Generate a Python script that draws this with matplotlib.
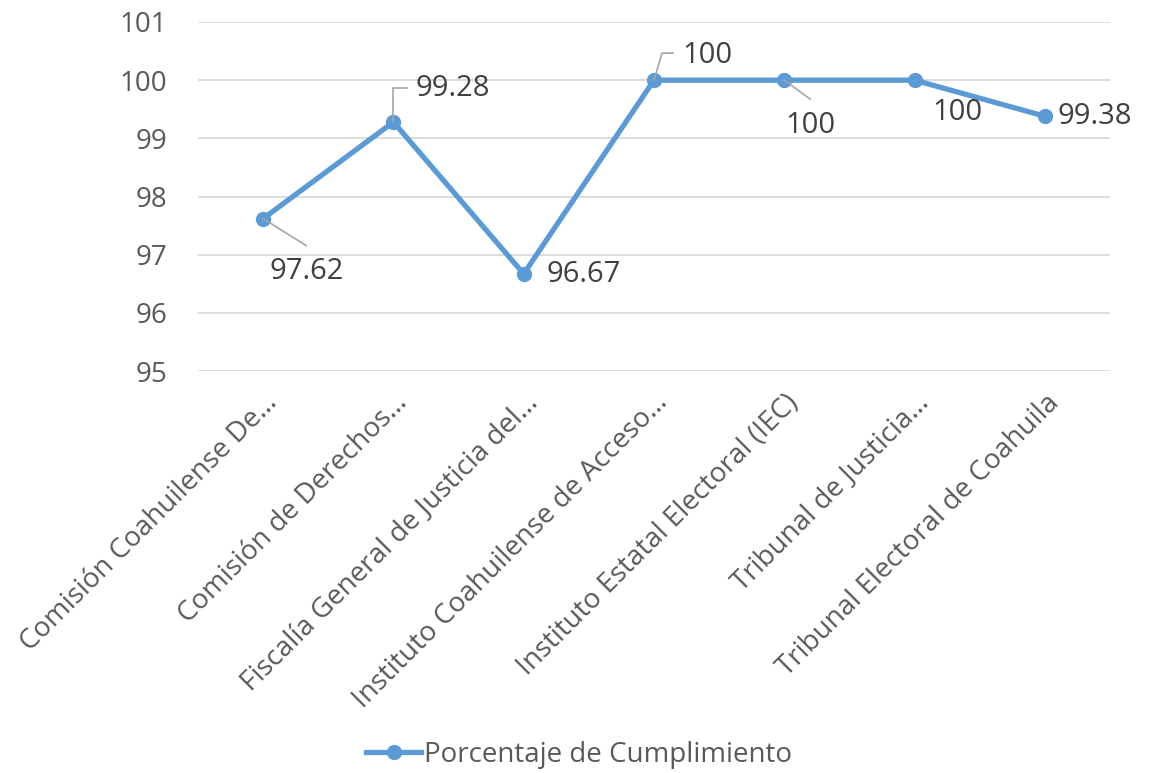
import matplotlib
matplotlib.use("Agg")
import matplotlib.pyplot as plt
from matplotlib.lines import Line2D
from matplotlib.transforms import IdentityTransform

plt.rcParams['font.family'] = ['Open Sans', 'DejaVu Sans']

# --- datos ---
categorias = [
    "Comisión Coahuilense De…",
    "Comisión de Derechos…",
    "Fiscalía General de Justicia del…",
    "Instituto Coahuilense de Acceso…",
    "Instituto Estatal Electoral (IEC)",
    "Tribunal de Justicia…",
    "Tribunal Electoral de Coahuila",
]
porcentajes = [97.62, 99.28, 96.67, 100, 100, 100, 99.38]
etiquetas = ["97.62", "99.28", "96.67", "100", "100", "100", "99.38"]
serie = "Porcentaje de Cumplimiento"

# posicion de etiquetas (offset en pixeles respecto al punto) y linea guia
offsets = [(44, -53), (59, 34), (60, -1), (53, 25), (26, -45), (43, -32), (50, 0)]
guias = [
    [(0, 0), (43, -27)],
    [(0, 0), (0, 34), (14, 34)],
    None,
    [(0, 0), (8, 27), (19, 27)],
    [(0, 0), (26, -19)],
    None,
    None,
]

azul = "#5b9bd5"
gris_texto = "#595959"

fig = plt.figure(figsize=(11.58, 7.73), dpi=100)
ax = fig.add_axes([198 / 1158, 1 - 371 / 773, 912 / 1158, 349 / 773])

x = list(range(len(categorias)))
ax.plot(x, porcentajes, color=azul, linewidth=3.8, marker="o", markersize=10,
        label=serie, solid_joinstyle="round", zorder=3)

ax.set_xlim(-0.5, len(categorias) - 0.5)
ax.set_ylim(95, 101)
ax.set_yticks(range(95, 102))
ax.grid(axis="y", color="#d9d9d9", linewidth=1.3)
ax.set_axisbelow(True)
for s in ax.spines.values():
    s.set_visible(False)
ax.tick_params(axis="both", length=0, labelsize=20, labelcolor=gris_texto)
ax.tick_params(axis="y", pad=22)
ax.set_xticks(x)
ax.set_xticklabels(categorias, rotation=45, ha="right", rotation_mode="anchor")
for lbl in ax.get_xticklabels():
    lbl.set_va("top")
ax.tick_params(axis="x", pad=13)

# etiquetas de datos
for i, (val, txt) in enumerate(zip(porcentajes, etiquetas)):
    ax.annotate(txt, (i, val), xytext=offsets[i], textcoords="offset pixels",
                ha="center", va="center", fontsize=21, color="#404040")

# lineas guia
for i, g in enumerate(guias):
    if g is None:
        continue
    px, py = ax.transData.transform((i, porcentajes[i]))
    xs = [px + d[0] for d in g]
    ys = [py + d[1] for d in g]
    fig.add_artist(Line2D(xs, ys, transform=IdentityTransform(),
                          color="#a6a6a6", linewidth=1.2, zorder=2))

fig.legend(loc="center", bbox_to_anchor=(0.5, 18 / 773), frameon=False,
           fontsize=20, labelcolor=gris_texto, handlelength=2.0,
           handletextpad=0.1)

fig.savefig("out.png", dpi=100)
